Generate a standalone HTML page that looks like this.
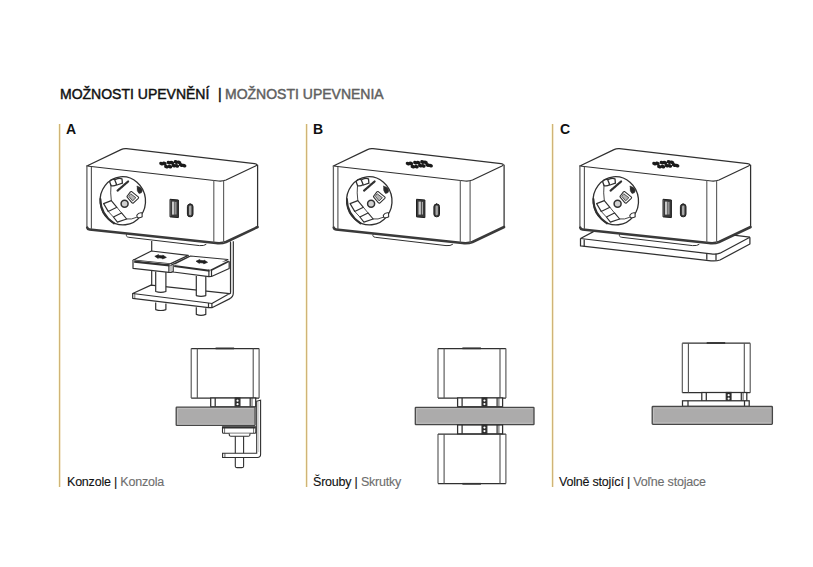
<!DOCTYPE html>
<html><head><meta charset="utf-8">
<style>
html,body{margin:0;padding:0;background:#fff;}
body{width:813px;height:567px;position:relative;overflow:hidden;font-family:"Liberation Sans",sans-serif;}
.t{position:absolute;white-space:pre;line-height:1;}
.h{font-size:14px;font-weight:normal;-webkit-text-stroke:0.45px currentColor;color:#111;top:87.3px;}
.lbl{font-size:14px;font-weight:bold;color:#111;top:122px;}
.cap{font-size:12.5px;letter-spacing:-0.21px;color:#111;-webkit-text-stroke:0.12px currentColor;top:476.1px;}
.cap span{color:#6e6e6e;}
.yl{position:absolute;width:1px;background:#d0b477;box-shadow:-1px 0 0 #fbf7dc,1px 0 0 #f3e8d2;top:124px;height:363px;}
svg{position:absolute;left:0;top:0;}
</style></head><body>
<div class="t h" style="left:60px">MOŽNOSTI UPEVNĚNÍ</div>
<div class="t h" style="left:218px">|</div>
<div class="t h" style="left:225px;color:#606060">MOŽNOSTI UPEVNENIA</div>

<div class="yl" style="left:59px"></div>
<div class="yl" style="left:306px"></div>
<div class="yl" style="left:552px"></div>

<div class="t lbl" style="left:66px">A</div>
<div class="t lbl" style="left:313px">B</div>
<div class="t lbl" style="left:560px">C</div>

<div class="t cap" style="left:67px">Konzole | <span>Konzola</span></div>
<div class="t cap" style="left:313px">Šrouby | <span>Skrutky</span></div>
<div class="t cap" style="left:559px">Volně stojící | <span>Voľne stojace</span></div>

<svg width="813" height="567" viewBox="0 0 813 567">
<defs>
<g id="box" fill="none" stroke="#303030" stroke-width="1.25" stroke-linejoin="round" stroke-linecap="round">
  <!-- top face -->
  <path d="M86.8,166 L121,149.6 Q123.5,148.4 126.5,148.7 L254.5,163.6 Q258.5,164.2 255.5,166 L226,180 Q222.5,181.4 218.5,181 Z" fill="#fff"/>
  <!-- front face -->
  <path d="M86.9,166 L86.9,227" stroke="#606060" stroke-width="1.3"/>
  <path d="M257.6,165 L257.6,226.3"/>
  <path d="M87.2,227.6 Q87.6,229.2 89.5,229.4 L216,243 Q222,243.6 226,242 L257.6,227" stroke="#3a3a3a" stroke-width="2.5"/>
  <line x1="91.4" y1="167" x2="91.4" y2="228.5" stroke="#555" stroke-width="1.15"/>
  <line x1="213.8" y1="180.5" x2="213.8" y2="242" stroke="#606060" stroke-width="1.15"/>
  <line x1="223.6" y1="181" x2="223.6" y2="242.5" stroke="#606060" stroke-width="1.15"/>
  <!-- plate under -->
  <path d="M126.5,234.6 Q125.5,236.8 128.8,237.3 L199.5,245.6 Q204,246 206,244.5" stroke-width="1"/>
  <!-- socket -->
  <ellipse cx="122.8" cy="200.8" rx="22.7" ry="24.1" stroke-width="1.3" transform="rotate(-6 122.8 200.8)"/>
  <path d="M100.4,199 Q100.5,214 114,223.4" stroke-width="1.9"/>
  <path d="M111,185 Q110.2,193 111.3,200.6" stroke-width="0.9"/>
  <path d="M103.6,203.6 L111.3,200.6 L116.9,207.3 L108.2,211.4 Z" stroke-width="1.15"/>
  <path d="M108.2,211.4 L113.4,217 M116.9,207.3 L121.5,212.9" stroke-width="0.85"/>
  <path d="M113.4,217 L121.5,212.9 L126.7,219 L117.4,222.1 Z" stroke-width="1.15"/>
  <path d="M126.7,219 Q131.5,219.8 136.4,217.4" stroke-width="0.9"/>
  <path d="M109.6,181.5 Q111.5,178.8 114.6,179.6 L116.6,184.6 Q113.8,186.6 111,185.6 Z" stroke-width="1.3"/>
  <path d="M115.6,179.4 Q119,177.8 122,178.8 L122.4,183.2 L117,185" stroke-width="1.3"/>
  <line x1="117.6" y1="190.6" x2="128.2" y2="181.4" stroke-width="2.2" stroke-dasharray="1.3 0.5"/>
  <path d="M130.4,191.8 Q131,191.2 131.7,191.6 L138.2,196.9 Q139,197.6 138.3,198.3 L133.5,202.8 Q132.8,203.5 132,202.9 L127.2,197.2 Q126.7,196.5 127.3,196 Z" stroke-width="1.1"/>
  <path d="M131,194 L135.9,197.7 L132.6,200.9 L129,196.6 Z" stroke-width="0.8" fill="#b4b4b4"/>
  <circle cx="124.6" cy="203.8" r="3.5" stroke-width="1.5" fill="#d0d0d0"/>
  <path d="M137.2,186.3 Q141.6,186.8 142.4,190.8 Q141.8,193.6 139,193.4 Q136.5,191.5 137.2,186.3 Z" fill="#2a2a2a" stroke-width="0.6"/>
  <path d="M136.8,215.2 Q138.6,212.2 142,212.8 L142.2,216.8 Q139.8,218.4 137.2,217.4 Z" fill="#fff" stroke-width="1.1"/>
  <!-- usb a -->
  <path d="M170.4,199.3 L178.4,200 L178.4,217.6 L170.4,216.9 Z" fill="#3a3a3a" stroke="#1e1e1e" stroke-width="1"/>
  <rect x="172" y="201.6" width="2.4" height="13" fill="#c8c8c8" stroke="none"/>
  <rect x="175.3" y="201.9" width="1.1" height="12.6" fill="#b8b8b8" stroke="none"/>
  <!-- usb c -->
  <rect x="187.4" y="204" width="5.6" height="12.8" rx="2.6" fill="#3a3a3a" stroke="#1e1e1e" stroke-width="1"/>
  <rect x="189" y="205.6" width="2.4" height="9.6" rx="1.2" fill="#a8a8a8" stroke="none"/>
  <!-- grill -->
  <g fill="#1a1a1a" stroke="none">
    <ellipse cx="161.5" cy="163.6" rx="2.4" ry="1.75" transform="rotate(20 161.5 163.6)"/>
    <ellipse cx="164.4" cy="163.5" rx="2.4" ry="1.75" transform="rotate(20 164.4 163.5)"/>
    <ellipse cx="166.4" cy="166.7" rx="2.4" ry="1.75" transform="rotate(20 166.4 166.7)"/>
    <ellipse cx="169.9" cy="166.7" rx="2.4" ry="1.75" transform="rotate(20 169.9 166.7)"/>
    <ellipse cx="168.9" cy="162.7" rx="2.4" ry="1.75" transform="rotate(20 168.9 162.7)"/>
    <ellipse cx="171.8" cy="162.7" rx="2.4" ry="1.75" transform="rotate(20 171.8 162.7)"/>
    <ellipse cx="173.8" cy="165.7" rx="2.4" ry="1.75" transform="rotate(20 173.8 165.7)"/>
    <ellipse cx="176.8" cy="165.9" rx="2.4" ry="1.75" transform="rotate(20 176.8 165.9)"/>
    <ellipse cx="176.0" cy="162.0" rx="2.4" ry="1.75" transform="rotate(20 176.0 162.0)"/>
    <ellipse cx="179.0" cy="162.3" rx="2.4" ry="1.75" transform="rotate(20 179.0 162.3)"/>
    <ellipse cx="181.2" cy="165.0" rx="2.4" ry="1.75" transform="rotate(20 181.2 165.0)"/>
    <ellipse cx="184.1" cy="165.7" rx="2.4" ry="1.75" transform="rotate(20 184.1 165.7)"/>
  </g>

</g>

<g id="sidebox" fill="none" stroke="#303030" stroke-width="1.25">
  <rect x="0" y="0" width="67.9" height="49.5" fill="#fff" stroke="none"/>
  <path d="M0,0 H67.9 M0,49.5 H67.9"/>
  <path d="M0,0 V49.5 M67.9,0 V49.5 M6.1,0 V49.5 M62,0 V49.5" stroke="#505050" stroke-width="1.1"/>
  <line x1="24.4" y1="-0.2" x2="42.9" y2="-0.2" stroke="#333" stroke-width="1.8"/>
</g>
<g id="mount" fill="#fff" stroke="#303030" stroke-width="1.25">
  <rect x="0" y="0" width="45" height="8.8"/>
  <line x1="4.5" y1="0" x2="4.5" y2="8.8"/>
  <rect x="24.5" y="0" width="4.7" height="8.8" fill="#2a2a2a"/>
  <line x1="39.5" y1="0" x2="39.5" y2="8.8"/>
  <line x1="41.3" y1="0" x2="41.3" y2="8.8" stroke-width="0.8"/>
  <circle cx="26.85" cy="2.7" r="1.1" fill="#fff" stroke="none"/>
  <circle cx="26.85" cy="6.2" r="1.1" fill="#fff" stroke="none"/>
</g>
</defs>

<!-- ============ A ============ -->
<use href="#box"/>
<g fill="none" stroke="#303030" stroke-width="1.2" stroke-linejoin="round">
  <!-- back leg -->
  <line x1="151.7" y1="241" x2="151.7" y2="285.5"/>
  <!-- bracket right -->
  <path d="M230.5,241.5 L230.5,293.2 L229.2,294" />
  <path d="M233.3,241.2 L233.3,293 Q233.3,297 229.5,298.8" />
  <line x1="231.9" y1="243" x2="231.9" y2="292" stroke="#cfcfcf" stroke-width="1.2"/>
  <!-- bottom plate -->
  <path d="M132.7,293.5 L151,285.1 L229.6,293.6 L211.9,303.5 L208.5,303 Z" fill="#fff"/>
  <path d="M132.7,293.5 L132.7,298.3 L208.5,307.7 L211.9,307.7 L230,298.6 M208.5,303 L208.5,307.7 M211.9,303.5 L211.9,307.7"/>
  <line x1="134.8" y1="294" x2="134.8" y2="298.5" stroke-width="0.7"/>
  <!-- posts -->
  <path d="M155.7,271.5 L155.7,291.5 Q160.8,293.2 165.9,291.5 L165.9,271.5" fill="#fff"/>
  <path d="M196.3,276 L196.3,295.6 Q201,297.2 205.8,295.6 L205.8,276" fill="#fff"/>
  <!-- lower pins -->
  <path d="M155.7,302.5 L155.7,309.6 Q160.8,311.4 165.9,309.6 L165.9,303.6" fill="#fff"/>
  <path d="M196.3,307.3 L196.3,314.4 Q201,316.2 205.8,314.4 L205.8,308.2" fill="#fff"/>
  <!-- left pad -->
  <path d="M133,260.2 L151.4,251 L188.3,255.4 L170.2,263.9 Z" fill="#fff"/>
  <path d="M133,260.2 L133,268.3 L168.9,272.4 L171,272.5 L173,271.6 L173,264.4 L170.2,263.9 Z" fill="#fff" stroke="none"/>
  <path d="M133,260.2 L133,268.3 L168.9,272.4 L171,272.5 L173,271.6"/>
  <path d="M168.9,264.1 L168.9,272.4"/>
  <path d="M171,264.6 L171,272.4" stroke-width="0.6"/>
  <path d="M134.2,261.6 L169.5,265.4" stroke-width="2.1"/>
  <path d="M170.4,265.4 L189.3,256.5" stroke-width="1.1"/>
  <!-- right pad -->
  <path d="M173.2,264.6 L190.5,256 L227.9,259.5 L208.9,269.4 Z" fill="#fff"/>
  <path d="M173.2,264.6 L173.2,272 L208.9,276.7 L211.5,276.5 L229.2,268.5 L229.2,261.2 M208.9,269.4 L208.9,276.7 M211.5,269.6 L211.5,276.5" fill="#fff"/>
  <path d="M174.2,266 L209.5,270.7" stroke-width="2.1"/>
  <path d="M210.5,270.6 L228.8,261.2" stroke-width="1.7"/>
  <!-- arrows -->
  <path d="M154.8,256.3 L158.5,254.6 L158.8,255.4 L162.5,255.8 L162.8,255.1 L166.4,257.4 L162.5,259 L162.3,258.2 L158.5,257.8 L158.2,258.5 Z" fill="#1e1e1e" stroke="#1e1e1e" stroke-width="0.6"/>
  <path d="M196,261.2 L199.7,259.5 L200,260.3 L203.7,260.7 L204,260 L207.6,262.3 L203.7,263.9 L203.5,263.1 L199.7,262.7 L199.4,263.4 Z" fill="#1e1e1e" stroke="#1e1e1e" stroke-width="0.6"/>
</g>

<!-- side view A -->
<g fill="none" stroke="#303030" stroke-width="1.25">
  <use href="#sidebox" x="191.2" y="348.6"/>
  <use href="#mount" x="210.7" y="398"/>
  <!-- screw -->
  <path d="M235.3,436 L235.3,466.5 Q235.5,467.6 237,467.6 L241.8,467.6 Q243.5,467.6 243.6,466.5 L243.6,436" fill="#fff" stroke-width="1.1"/>
  <!-- bracket -->
  <path d="M256.7,401.2 L260.6,400.2 L260.6,454.3 Q260.6,457.5 257.4,457.5 L222.6,457.5 L222.6,453.2 L256.7,453.2 Z" fill="#fff" stroke-width="1.1"/>
  <line x1="224.9" y1="453.4" x2="224.9" y2="457.3" stroke-width="0.8"/>
  <line x1="258.7" y1="402" x2="258.7" y2="452" stroke="#bbb" stroke-width="0.8"/>
  <!-- pad -->
  <path d="M222.5,426.8 L255.8,426.8 L255.8,432.3 Q255.8,433.3 254.8,433.3 L223.5,433.3 Q222.5,433.3 222.5,432.3 Z" fill="#fff" stroke-width="1.1"/>
  <line x1="222.8" y1="427.6" x2="255.5" y2="427.6" stroke-width="1.8"/>
  <line x1="224.6" y1="428" x2="224.6" y2="433" stroke-width="0.7"/>
  <line x1="253.6" y1="428" x2="253.6" y2="433" stroke-width="0.7"/>
  <path d="M229.3,433.4 L229.3,435.2 Q229.5,436.2 230.8,436.2 L248.2,436.2 Q249.8,436.2 249.9,435.2 L249.9,433.4" fill="#fff" stroke-width="1.1"/>
  <!-- table -->
  <rect x="176.2" y="407.2" width="78.9" height="18.2" rx="0.6" fill="#acabab" stroke="#474747" stroke-width="1.3"/>
  <path d="M177.6,424 L177.6,408.6 L253.7,408.6" stroke="#c4c4c4" stroke-width="0.8"/>
  <line x1="177" y1="424.2" x2="254.3" y2="424.2" stroke="#c0c0c0" stroke-width="0.8"/>
</g>

<!-- ============ B ============ -->
<use href="#box" x="246.5"/>
<g fill="none" stroke="#303030" stroke-width="1.25">
  <use href="#sidebox" x="438" y="348.5"/>
  <use href="#mount" x="457.6" y="397.9"/>
  <rect x="415.3" y="407.3" width="118.7" height="17.3" rx="0.6" fill="#acabab" stroke="#474747" stroke-width="1.3"/>
  <path d="M416.7,423.2 L416.7,408.7 L532.6,408.7 M416.7,423.2 L532.6,423.2" stroke="#c4c4c4" stroke-width="0.8"/>
  <g transform="translate(0,831.5) scale(1,-1)">
    <use href="#sidebox" x="438" y="347.9"/>
    <use href="#mount" x="457.6" y="397.7"/>
  </g>
</g>

<!-- ============ C ============ -->
<use href="#box" x="493"/>
<g fill="none" stroke="#303030" stroke-width="1.25" stroke-linejoin="round">
  <!-- base plate -->
  <path d="M593.5,231.6 L580.5,238.5 M749.9,237.2 L733.5,235.1"/>
  <path d="M580.5,238.5 L580.5,245.9 L711,260.8 Q716,261.4 720,260 L749.9,244 L749.9,237.2"/>
  <line x1="584.2" y1="239.5" x2="584.2" y2="246.5"/>
  <line x1="706.8" y1="253" x2="706.8" y2="259.8"/>
  <line x1="716" y1="253.8" x2="716" y2="260.6"/>
  <path d="M580.5,238.5 L711,253.8 Q716,254.6 720,253.2 L749.9,237.2"/>
</g>
<g fill="none" stroke="#303030" stroke-width="1.25">
  <use href="#sidebox" x="682.3" y="343.2"/>
  <use href="#mount" x="701.8" y="392.5"/>
  <rect x="682.5" y="400.8" width="66.7" height="5.6" fill="#fff"/>
  <line x1="688" y1="400.8" x2="688" y2="406.4"/>
  <line x1="744.5" y1="400.8" x2="744.5" y2="406.4"/>
  <rect x="652.2" y="406.5" width="120.2" height="17.8" rx="0.8" fill="#acabab" stroke="#474747" stroke-width="1.3"/>
  <path d="M653.6,422.9 L653.6,407.9 L771,407.9 M653.6,422.9 L771,422.9" stroke="#c4c4c4" stroke-width="0.8"/>
</g>
</svg>
</body></html>
